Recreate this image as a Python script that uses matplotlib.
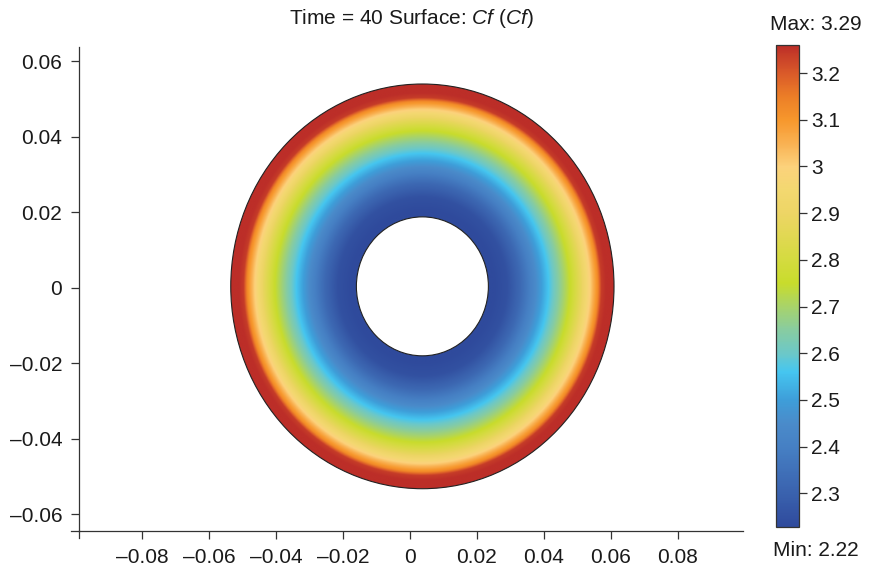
import numpy as np
import matplotlib
matplotlib.use("Agg")
import matplotlib.pyplot as plt
import matplotlib.patches as mpatches
from matplotlib.colors import LinearSegmentedColormap, Normalize
from matplotlib.path import Path
from matplotlib.ticker import FuncFormatter

plt.rcParams['font.family'] = ['Liberation Sans', 'DejaVu Sans']
plt.rcParams['mathtext.fontset'] = 'custom'
plt.rcParams['mathtext.rm'] = 'Liberation Sans'
plt.rcParams['mathtext.it'] = 'Liberation Sans:italic'

# geometry of the annulus (data units)
center = (0.0037, 0.0004)
outer_axes = (0.0572, 0.0536)      # semi axes of outer boundary
inner_axes = (0.0197, 0.0184)      # semi axes of inner boundary

# radial profile of Cf (0 = inner edge, 1 = outer edge)
profile_t = [0.0, 0.15, 0.25, 0.35, 0.47, 0.56, 0.65, 0.74, 0.81, 0.87, 0.90, 1.0]
profile_cf = [2.22, 2.25, 2.32, 2.42, 2.55, 2.65, 2.75, 2.88, 3.00, 3.12, 3.24, 3.29]

cf_min = 2.22
cf_max = 3.29
cbar_lo = 2.228
cbar_hi = 3.26
cbar_ticks = [2.3, 2.4, 2.5, 2.6, 2.7, 2.8, 2.9, 3.0, 3.1, 3.2]

x_ticks = [-0.08, -0.06, -0.04, -0.02, 0, 0.02, 0.04, 0.06, 0.08]
y_ticks = [-0.06, -0.04, -0.02, 0, 0.02, 0.04, 0.06]

# colour table (value, colour)
cmap_vals = [2.228, 2.30, 2.40, 2.45, 2.50, 2.56, 2.60, 2.65, 2.70, 2.75, 2.80,
             2.90, 2.95, 3.00, 3.05, 3.10, 3.15, 3.20, 3.26]
cmap_cols = ['#2F4A9C', '#3A62AE', '#4680C4', '#4A8BCA', '#3E9ED9', '#45C6F0',
             '#6CC8C8', '#88CCA0', '#A8D36A', '#C8DC2C', '#D4DB3F', '#EDD565',
             '#F3D870', '#FCD27C', '#F9B152', '#F7972C', '#EC7E27', '#DA5A29',
             '#BC2E28']

pos = [(v - cbar_lo) / (cbar_hi - cbar_lo) for v in cmap_vals]
cmap = LinearSegmentedColormap.from_list('comsol', list(zip(pos, cmap_cols)), N=512)
norm = Normalize(vmin=cbar_lo, vmax=cbar_hi)


def ellipse_xy(axes, n=400, reverse=False):
    th = np.linspace(0, 2 * np.pi, n)
    if reverse:
        th = th[::-1]
    return center[0] + axes[0] * np.cos(th), center[1] + axes[1] * np.sin(th)


def closed_path(x, y):
    verts = np.column_stack([x, y])
    codes = np.full(len(verts), Path.LINETO)
    codes[0] = Path.MOVETO
    codes[-1] = Path.CLOSEPOLY
    return Path(verts, codes)


fig = plt.figure(figsize=(8.73, 5.75), dpi=100)
ax = fig.add_axes([79 / 873, 44 / 575, 664 / 873, 484 / 575])

# field on a grid
gx = np.linspace(center[0] - outer_axes[0] * 1.02, center[0] + outer_axes[0] * 1.02, 700)
gy = np.linspace(center[1] - outer_axes[1] * 1.02, center[1] + outer_axes[1] * 1.02, 700)
X, Y = np.meshgrid(gx, gy)
rho = np.sqrt(((X - center[0]) / outer_axes[0]) ** 2 + ((Y - center[1]) / outer_axes[1]) ** 2)
rin = inner_axes[0] / outer_axes[0]
t = np.clip((rho - rin) / (1 - rin), 0, 1)
field = np.interp(t, profile_t, profile_cf)

im = ax.imshow(field, cmap=cmap, norm=norm, origin='lower',
               extent=[gx[0], gx[-1], gy[0], gy[-1]], aspect='auto',
               interpolation='bilinear')

ox, oy = ellipse_xy(outer_axes)
ix, iy = ellipse_xy(inner_axes, reverse=True)
clip = Path.make_compound_path(closed_path(ox, oy), closed_path(ix, iy))
patch = mpatches.PathPatch(clip, facecolor='none', edgecolor='none', transform=ax.transData)
ax.add_patch(patch)
im.set_clip_path(patch)

for a in (outer_axes, inner_axes):
    ax.add_patch(mpatches.Ellipse(center, 2 * a[0], 2 * a[1], fill=False,
                                  edgecolor='#222222', lw=0.8))

ax.set_xlim(-0.0988, 0.0994)
ax.set_ylim(-0.0644, 0.0638)
ax.set_xticks(x_ticks)
ax.set_yticks(y_ticks)
fmt = FuncFormatter(lambda v, p: ('%g' % v).replace('-', '\u2013') if abs(v) > 1e-12 else '0')
ax.xaxis.set_major_formatter(fmt)
ax.yaxis.set_major_formatter(fmt)
for s in ['top', 'right']:
    ax.spines[s].set_visible(False)
for s in ['left', 'bottom']:
    ax.spines[s].set_color('#333333')
    ax.spines[s].set_linewidth(0.9)
ax.tick_params(direction='out', length=6, width=0.9, color='#333333',
               labelsize=15, labelcolor='#1a1a1a', pad=6)
# little overhangs at the corner
ax.plot([-0.012, 0], [0, 0], transform=ax.transAxes, clip_on=False, color='#333333', lw=0.9)
ax.plot([0, 0], [-0.0145, 0], transform=ax.transAxes, clip_on=False, color='#333333', lw=0.9)

fig.text(411 / 873, 1 - 24 / 575, r'Time = 40 Surface: $\mathit{Cf}$ ($\mathit{Cf}$)',
         ha='center', va='baseline', fontsize=15, color='#1a1a1a')

# colour bar
cax = fig.add_axes([776 / 873, 48 / 575, 23 / 873, 482 / 575])
cb = fig.colorbar(im, cax=cax, ticks=cbar_ticks)
cb.ax.yaxis.set_major_formatter(FuncFormatter(lambda v, p: '%g' % v))
cb.ax.tick_params(direction='out', length=6, width=0.9, color='#333333',
                  labelsize=15, labelcolor='#1a1a1a', pad=3)
cb.outline.set_edgecolor('#333333')
cb.outline.set_linewidth(0.9)

fig.text(816 / 873, 1 - 30 / 575, 'Max: %.2f' % cf_max, ha='center', va='baseline',
         fontsize=15, color='#1a1a1a')
fig.text(816 / 873, 1 - 556 / 575, 'Min: %.2f' % cf_min, ha='center', va='baseline',
         fontsize=15, color='#1a1a1a')

fig.savefig('out.png', dpi=100)
